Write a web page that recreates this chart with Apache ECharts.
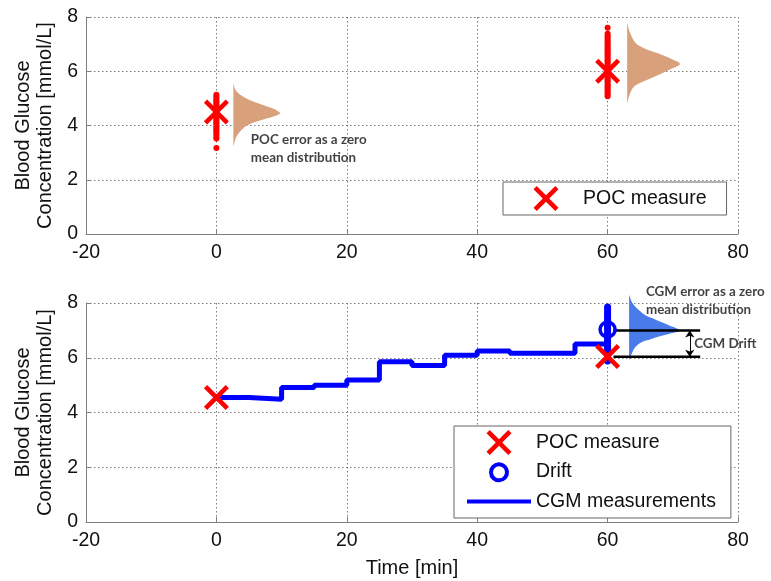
<!DOCTYPE html>
<html>
<head>
<meta charset="utf-8">
<script src="https://cdn.jsdelivr.net/npm/echarts@6/dist/echarts.min.js"></script>
<style>
  html, body { margin: 0; padding: 0; background: #fff; }
  #chart { width: 771px; height: 581px; }
</style>
</head>
<body>
<div id="chart"></div>
<script>
// ---------------- data ----------------
const xMin = -20, xMax = 80, xStep = 20;
const yMin = 0, yMax = 8, yStep = 2;

// POC measurements (top & bottom panels)
const pocTime = [0, 60];
const pocValueTop = [4.5, 6.0];
const pocValueBottom = [4.55, 6.05];

// POC sample spread (red dots, top panel)
const pocSamplesAt0 = [5.13, 5.06, 5.0, 4.93, 4.88, 4.81, 4.76, 4.7, 4.63, 4.58, 4.52, 4.47, 4.41, 4.36, 4.3, 4.24, 4.19, 4.12, 4.06, 3.99, 3.93, 3.86, 3.8, 3.73, 3.66, 3.58, 3.52, 3.17];
const pocSamplesAt60 = [7.6, 7.38, 7.31, 7.24, 7.17, 7.1, 7.04, 6.97, 6.91, 6.85, 6.78, 6.72, 6.66, 6.6, 6.54, 6.47, 6.41, 6.35, 6.29, 6.22, 6.16, 6.1, 6.04, 5.97, 5.91, 5.85, 5.79, 5.72, 5.66, 5.6, 5.53, 5.47, 5.41, 5.34, 5.28, 5.21, 5.14, 5.08];

// CGM step measurements (bottom panel)
const cgmTime  = [0, 5, 10, 15, 20, 25, 30, 35, 40, 45, 50, 55, 60];
const cgmValue = [4.55, 4.48, 4.91, 5.0, 5.19, 5.85, 5.72, 6.09, 6.25, 6.16, 6.16, 6.5, 6.5];

// CGM sample spread at t = 60 (blue dots)
const cgmSamplesAt60 = [7.85, 7.78, 7.71, 7.64, 7.57, 7.5, 7.43, 7.36, 7.29, 7.22, 7.15, 7.08, 7.01, 6.94, 6.87, 6.8, 6.73, 6.66, 6.59, 6.52, 6.45, 6.38, 6.31, 6.24, 6.17, 6.1, 6.03, 5.96, 5.88];

// Drift point
const driftTime = [60];
const driftValue = [7.03];

// Distribution outlines: [glucose value, horizontal extent in minutes]
const pocDist0Base = 2.6;
const pocDist0 = [[5.56,0],[5.35,0.25],[5.19,0.77],[5.0,2.0],[4.82,3.8],[4.65,5.8],[4.52,6.9],[4.45,7.2],[4.36,6.5],[4.22,4.6],[4.08,2.8],[3.92,1.6],[3.77,1.0],[3.55,0.4],[3.22,0]];
const pocDist60Base = 63.0;
const pocDist60 = [[7.78,0],[7.45,0.4],[7.04,1.3],[6.85,2.6],[6.67,4.6],[6.45,6.8],[6.27,8.1],[6.1,6.9],[5.95,5.6],[5.79,4.1],[5.6,2.3],[5.42,1.0],[5.15,0.4],[4.8,0]];
const cgmDistBase = 63.3;
const cgmDist = [[8.3,0],[8.0,0.5],[7.76,1.4],[7.55,2.5],[7.4,4.0],[7.2,6.0],[7.0,7.8],[6.9,6.6],[6.8,5.0],[6.68,3.3],[6.57,1.9],[6.4,1.0],[6.2,0.5],[5.9,0]];

// Drift bracket
const driftLineX = [60.9, 74.2];
const driftLineY = [7.0, 6.04];
const driftArrowX = 72.6;

// Annotation texts: [x, y, text]
const pocNote = [5.2, 3.15, 'POC error as a zero\nmean distribution'];
const cgmNote = [65.8, 8.08, 'CGM error as a zero\nmean distribution'];
const driftNote = [73.2, 6.5, 'CGM Drift'];

// ---------------- chart ----------------
const FONT = 'Liberation Sans, Arial, Helvetica, sans-serif';
const NOTE_FONT = 'Lato, Open Sans, sans-serif';
const RED = '#ff0000', BLUE = '#0000ff';
const ORANGE = '#d9a07c', LIGHTBLUE = '#4a7bea';
const xSymbol = 'path://M1.3,0L5,3.7L8.7,0L10,1.3L6.3,5L10,8.7L8.7,10L5,6.3L1.3,10L0,8.7L3.7,5L0,1.3Z';
// legend icons padded to the full 64x25 icon box so the legend content is not shifted
const xIcon = 'path://M0,0M64,25M22.75,0L32,9.25L41.25,0L44.5,3.25L35.25,12.5L44.5,21.75L41.25,25L32,15.75L22.75,25L19.5,21.75L28.75,12.5L19.5,3.25Z';
const ringIcon = 'path://M0,0M64,25M40,12.5A8,8,0,1,1,39.99,12.3Z';
const lineIcon = 'path://M0,0M64,25M0,10.5L64,10.5L64,14.5L0,14.5Z';

function axisX(i) {
  return {
    gridIndex: i, type: 'value', min: xMin, max: xMax, interval: xStep,
    axisLine: { onZero: false, lineStyle: { color: '#7f7f7f', width: 1 } },
    axisTick: { inside: true, length: 5, lineStyle: { color: '#7f7f7f' } },
    axisLabel: { color: '#111', fontSize: 19.5, fontFamily: FONT, margin: 9 },
    splitLine: { show: true, lineStyle: { type: [1.5, 2.5], color: '#7a7a7a', width: 1 } },
    name: i === 1 ? 'Time [min]' : '', nameLocation: 'middle', nameGap: 36,
    nameTextStyle: { fontSize: 20, color: '#111', fontFamily: FONT }
  };
}
function axisY(i) {
  return {
    gridIndex: i, type: 'value', min: yMin, max: yMax, interval: yStep,
    axisLine: { show: true, onZero: false, lineStyle: { color: '#7f7f7f', width: 1 } },
    axisTick: { show: true, inside: true, length: 5, lineStyle: { color: '#7f7f7f' } },
    axisLabel: { color: '#111', fontSize: 19.5, fontFamily: FONT, margin: 8 },
    splitLine: { show: true, lineStyle: { type: [1.5, 2.5], color: '#7a7a7a', width: 1 } },
    name: 'Blood Glucose\nConcentration [mmol/L]', nameLocation: 'middle', nameRotate: 90, nameGap: 29,
    nameTextStyle: { fontSize: 20, lineHeight: 22, color: '#111', fontFamily: FONT }
  };
}

function distRender(base, profile, color) {
  return function (params, api) {
    const pts = [api.coord([base, profile[0][0]])];
    profile.forEach(function (p) { pts.push(api.coord([base + p[1], p[0]])); });
    pts.push(api.coord([base, profile[profile.length - 1][0]]));
    return { type: 'polygon', shape: { points: pts, smooth: 0.35 }, style: { fill: color } };
  };
}

function noteSeries(gi, note, size) {
  return {
    type: 'scatter', xAxisIndex: gi, yAxisIndex: gi, silent: true, clip: false,
    symbolSize: 1, itemStyle: { color: 'transparent' },
    data: [[note[0], note[1]]],
    label: { show: true, position: 'right', distance: 0, formatter: note[2],
      fontFamily: NOTE_FONT, fontWeight: 'bold', fontSize: size, lineHeight: 17.5, color: '#111' },
    z: 6
  };
}

const legendText = { fontSize: 19.5, color: '#111', fontFamily: FONT };

const option = {
  animation: false,
  backgroundColor: '#fff',
  textStyle: { fontFamily: FONT },
  grid: [
    { left: 86, right: 33, top: 17, height: 217 },
    { left: 86, right: 33, top: 303, height: 219 }
  ],
  xAxis: [axisX(0), axisX(1)],
  yAxis: [axisY(0), axisY(1)],
  legend: [
    {
      data: [{ name: 'POC measure', icon: xIcon, itemStyle: { color: RED, opacity: 1 } }],
      orient: 'vertical', left: 503, top: 182,
      padding: [4, 20, 4, 11], itemWidth: 64, itemHeight: 25, itemGap: 2.5,
      backgroundColor: '#fff', borderColor: '#666', borderWidth: 1, borderRadius: 0,
      textStyle: legendText, selectedMode: false
    },
    {
      data: [
        { name: 'POC measure', icon: xIcon, itemStyle: { color: RED, opacity: 1 } },
        { name: 'Drift', icon: ringIcon, itemStyle: { color: 'transparent', borderColor: BLUE, borderWidth: 4, opacity: 1 } },
        { name: 'CGM measurements', icon: lineIcon, itemStyle: { color: BLUE, opacity: 1 } }
      ],
      orient: 'vertical', left: 454, top: 426,
      padding: [4, 15, 4, 11], itemWidth: 64, itemHeight: 25, itemGap: 2.5,
      backgroundColor: '#fff', borderColor: '#666', borderWidth: 1, borderRadius: 0,
      textStyle: legendText, selectedMode: false
    }
  ],
  series: [
    // ----- top panel -----
    { type: 'custom', xAxisIndex: 0, yAxisIndex: 0, silent: true, clip: false, data: [0],
      renderItem: distRender(pocDist0Base, pocDist0, ORANGE), z: 1 },
    { type: 'custom', xAxisIndex: 0, yAxisIndex: 0, silent: true, clip: false, data: [0],
      renderItem: distRender(pocDist60Base, pocDist60, ORANGE), z: 1 },
    { type: 'scatter', xAxisIndex: 0, yAxisIndex: 0, silent: true, symbolSize: 6,
      itemStyle: { color: RED, opacity: 1 },
      data: pocSamplesAt0.map(function (v) { return [pocTime[0], v]; })
        .concat(pocSamplesAt60.map(function (v) { return [pocTime[1], v]; })), z: 3 },
    { name: 'POC measure', type: 'scatter', xAxisIndex: 0, yAxisIndex: 0, symbol: xSymbol, symbolSize: 25,
      itemStyle: { color: RED, opacity: 1 }, data: pocTime.map(function (t, i) { return [t, pocValueTop[i]]; }), z: 4 },
    noteSeries(0, pocNote, 13.4),

    // ----- bottom panel -----
    { type: 'custom', xAxisIndex: 1, yAxisIndex: 1, silent: true, clip: false, data: [0],
      renderItem: distRender(cgmDistBase, cgmDist, LIGHTBLUE), z: 1 },
    { name: 'CGM measurements', type: 'line', xAxisIndex: 1, yAxisIndex: 1, step: 'end',
      symbol: 'none', showSymbol: false, lineStyle: { color: BLUE, width: 5 }, itemStyle: { color: BLUE },
      data: cgmTime.map(function (t, i) { return [t, cgmValue[i]]; }), z: 2 },
    { type: 'scatter', xAxisIndex: 1, yAxisIndex: 1, silent: true, symbolSize: 7,
      itemStyle: { color: BLUE, opacity: 1 },
      data: cgmSamplesAt60.map(function (v) { return [pocTime[1], v]; }), z: 3 },
    { type: 'line', xAxisIndex: 1, yAxisIndex: 1, silent: true, symbol: 'none',
      lineStyle: { color: '#000', width: 2.5 },
      data: [[driftLineX[0], driftLineY[0]], [driftLineX[1], driftLineY[0]]], z: 4 },
    { type: 'line', xAxisIndex: 1, yAxisIndex: 1, silent: true, symbol: 'none',
      lineStyle: { color: '#000', width: 2.5 },
      data: [[driftLineX[0], driftLineY[1]], [driftLineX[1], driftLineY[1]]], z: 4 },
    { type: 'lines', coordinateSystem: 'cartesian2d', xAxisIndex: 1, yAxisIndex: 1, silent: true,
      symbol: ['arrow', 'arrow'], symbolSize: 7,
      lineStyle: { color: '#000', width: 1, opacity: 1 },
      data: [{ coords: [[driftArrowX, driftLineY[0]], [driftArrowX, driftLineY[1]]] }], z: 4 },
    { name: 'Drift', type: 'scatter', xAxisIndex: 1, yAxisIndex: 1, symbol: 'circle', symbolSize: 15,
      itemStyle: { color: 'transparent', borderColor: BLUE, borderWidth: 3.5, opacity: 1 },
      data: driftTime.map(function (t, i) { return [t, driftValue[i]]; }), z: 5 },
    { name: 'POC measure', type: 'scatter', xAxisIndex: 1, yAxisIndex: 1, symbol: xSymbol, symbolSize: 25,
      itemStyle: { color: RED, opacity: 1 }, data: pocTime.map(function (t, i) { return [t, pocValueBottom[i]]; }), z: 5 },
    noteSeries(1, cgmNote, 13.4),
    noteSeries(1, driftNote, 13.4)
  ]
};

const chart = echarts.init(document.getElementById('chart'), null, { renderer: 'canvas' });
chart.setOption(option);
</script>
</body>
</html>
